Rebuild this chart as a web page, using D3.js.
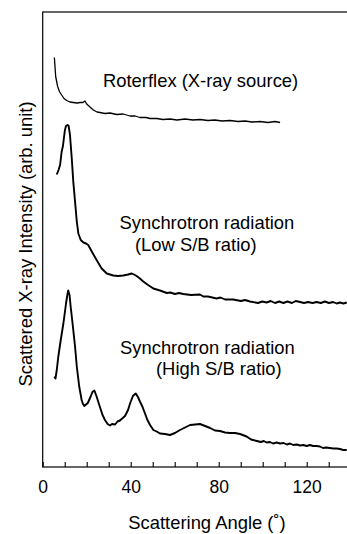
<!DOCTYPE html>
<html>
<head>
<meta charset="utf-8">
<script src="https://cdn.jsdelivr.net/npm/d3@7"></script>
<style>
  body { margin: 0; background: #fff; }
  svg { display: block; }
  text { font-family: "Liberation Sans", Arial, Helvetica, sans-serif; fill: #000; }
</style>
</head>
<body>
<svg id="chart"></svg>
<script>
// [angle (deg), intensity (arb. unit)]
const roterflex = [
  [5.3, 81.9], [5.9, 78.1], [6.8, 76.1], [7.6, 75.1], [8.6, 74.4], [9.7, 73.7],
  [10.9, 73.3], [12.4, 73.0], [13.9, 72.9], [15.6, 72.8], [17.0, 72.9], [18.3, 72.9],
  [19.2, 73.2], [20.0, 72.6], [21.5, 72.0], [23.0, 71.4], [24.7, 71.0], [26.0, 70.9],
  [28.3, 70.7], [30.6, 70.8], [33.6, 70.5], [36.6, 70.6], [39.7, 70.2], [42.0, 70.2],
  [44.2, 69.9], [47.0, 69.9], [48.8, 69.7], [51.8, 69.7], [54.7, 69.5], [57.9, 69.6],
  [61.0, 69.4], [64.7, 69.6], [68.3, 69.4], [71.5, 69.5], [75.1, 69.3], [78.3, 69.4],
  [81.5, 69.2], [85.1, 69.3], [88.8, 69.1], [92.0, 69.2], [95.1, 69.0], [98.8, 69.1],
  [102.4, 68.9], [105.6, 69.1], [107.9, 68.9]
];

const lowSB = [
  [6.4, 58.5], [7.2, 59.4], [7.9, 60.4], [8.6, 63.0], [9.2, 64.2], [9.7, 66.0],
  [10.1, 67.4], [10.6, 68.2], [11.3, 68.4], [11.8, 68.2], [12.4, 66.4], [13.2, 61.8],
  [13.9, 57.1], [14.7, 53.1], [15.5, 49.1], [16.2, 46.7], [17.3, 45.4], [18.5, 44.9],
  [19.7, 44.7], [20.7, 44.4], [22.3, 43.1], [24.5, 41.4], [26.8, 39.7], [29.1, 38.7],
  [32.1, 38.3], [34.2, 38.2], [36.6, 38.3], [38.8, 38.5], [40.5, 38.7], [41.5, 38.5],
  [42.7, 38.2], [44.2, 37.7], [45.7, 37.1], [47.9, 36.4], [50.3, 35.7], [53.3, 35.3],
  [56.4, 34.8], [58.0, 34.9], [60.1, 34.6], [62.0, 34.8], [63.9, 34.6], [67.4, 34.4],
  [71.5, 34.5], [73.0, 34.1], [75.1, 34.1], [79.1, 33.7], [80.8, 33.9], [82.9, 33.5],
  [86.6, 33.5], [90.1, 33.2], [92.0, 33.4], [94.2, 33.1], [97.9, 32.8], [99.8, 33.1],
  [101.8, 32.9], [103.6, 33.2], [105.6, 32.8], [107.5, 33.1], [109.4, 32.8], [111.2, 33.1],
  [113.3, 32.8], [115.0, 33.2], [117.0, 33.0], [118.8, 32.8], [120.6, 33.0], [122.6, 32.8],
  [124.5, 33.0], [126.4, 32.8], [128.3, 33.1], [130.1, 32.8], [132.0, 33.0], [133.6, 32.7],
  [135.1, 32.9], [136.7, 32.7], [138.2, 32.9]
];

const highSB = [
  [5.3, 18.1], [5.8, 17.7], [6.4, 19.4], [7.1, 22.1], [8.2, 25.4], [9.4, 28.7],
  [10.6, 32.7], [11.2, 34.4], [11.6, 35.3], [12.2, 34.4], [12.7, 32.1], [13.3, 29.8],
  [13.9, 27.4], [14.7, 24.1], [15.5, 20.1], [16.6, 16.1], [17.7, 13.4], [18.3, 12.6],
  [18.9, 12.2], [19.7, 12.5], [20.5, 12.8], [21.8, 14.1], [22.6, 15.0], [23.5, 15.3],
  [24.5, 14.1], [26.0, 12.0], [27.2, 10.4], [28.3, 9.4], [29.5, 8.6], [30.6, 8.3],
  [31.5, 8.6], [32.9, 8.5], [34.0, 9.1], [35.1, 9.3], [37.4, 10.2], [38.8, 11.4],
  [39.7, 12.7], [41.0, 14.2], [42.3, 14.7], [43.3, 14.0], [44.2, 13.1], [45.4, 12.0],
  [46.5, 10.7], [47.6, 9.4], [48.8, 8.4], [50.3, 7.4], [51.8, 7.1], [53.3, 6.7],
  [55.6, 6.6], [57.9, 6.4], [60.1, 6.8], [62.4, 7.4], [64.7, 7.9], [67.0, 8.4],
  [69.3, 8.5], [71.5, 8.6], [73.8, 8.2], [76.1, 7.8], [78.3, 7.3], [80.6, 7.2],
  [82.9, 6.9], [85.1, 6.8], [87.4, 6.8], [89.7, 6.6], [92.7, 6.1], [94.7, 5.5],
  [97.3, 5.2], [99.2, 5.0], [100.5, 5.2], [101.8, 4.9], [103.3, 5.0], [104.7, 4.7],
  [106.3, 4.9], [107.9, 4.7], [109.5, 4.8], [111.0, 4.5], [112.4, 4.7], [113.9, 4.4],
  [115.5, 4.5], [117.0, 4.3], [118.5, 4.4], [120.0, 4.2], [121.5, 4.4], [122.9, 4.2],
  [124.5, 4.2], [126.0, 4.1], [127.4, 3.8], [128.8, 3.9], [130.5, 3.8], [132.1, 3.7],
  [133.6, 3.7], [135.1, 3.6], [136.6, 3.4], [138.2, 3.4]
];

const xTicks = d3.range(0, 140, 10);
const xLabels = [0, 40, 80, 120];

const labels = [
  { text: "Roterflex (X-ray source)", x: 103, y: 87 },
  { text: "Synchrotron radiation", x: 119.5, y: 229 },
  { text: "(Low S/B ratio)", x: 135, y: 251 },
  { text: "Synchrotron radiation", x: 120, y: 354 },
  { text: "(High S/B ratio)", x: 156, y: 375 }
];

const W = 347, H = 534;
const svg = d3.select("#chart").attr("width", W).attr("height", H);

const x = d3.scaleLinear().domain([0, 140]).range([42.7, 350.7]);
const y = d3.scaleLinear().domain([0, 91]).range([467, 12]);

// frame
svg.append("rect")
  .attr("x", x(0)).attr("y", y(91))
  .attr("width", x(140) - x(0)).attr("height", y(0) - y(91))
  .attr("fill", "none").attr("stroke", "#000").attr("stroke-width", 1.2);

const ax = svg.append("g")
  .attr("transform", "translate(0," + y(0) + ")")
  .call(d3.axisBottom(x)
    .tickValues(xTicks)
    .tickSize(-5)
    .tickPadding(13.3)
    .tickFormat(d => xLabels.includes(d) ? d : ""));
ax.select(".domain").remove();
ax.selectAll("line").attr("stroke-width", 1.1);
ax.selectAll("text")
  .style("font-family", '"Liberation Sans", Arial, sans-serif')
  .style("font-size", "17.5px");

const line = d3.line().x(d => x(d[0])).y(d => y(d[1]));

[[roterflex, 1.3], [lowSB, 1.9], [highSB, 1.9]].forEach(([data, sw]) => {
  svg.append("path")
    .datum(data)
    .attr("d", line)
    .attr("fill", "none")
    .attr("stroke", "#000")
    .attr("stroke-width", sw)
    .attr("stroke-linejoin", "round");
});

svg.selectAll(".lbl")
  .data(labels)
  .enter().append("text")
  .attr("class", "lbl")
  .attr("x", d => d.x).attr("y", d => d.y)
  .style("font-size", "18.4px")
  .text(d => d.text);

svg.append("text")
  .attr("x", 207).attr("y", 529)
  .attr("text-anchor", "middle")
  .style("font-size", "18.4px")
  .text("Scattering Angle (˚)");

svg.append("text")
  .attr("transform", "translate(32,244) rotate(-90)")
  .attr("text-anchor", "middle")
  .style("font-size", "18.4px")
  .text("Scattered X-ray Intensity (arb. unit)");
</script>
</body>
</html>
